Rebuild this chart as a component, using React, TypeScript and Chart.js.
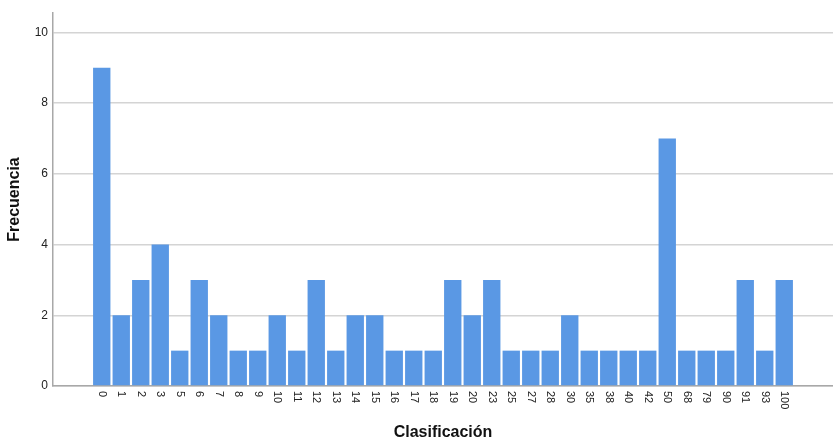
import React, { useEffect, useRef } from "react";
import { Chart, registerables } from "chart.js";

Chart.register(...registerables);

const categories: string[] = [
  "0", "1", "2", "3", "5", "6", "7", "8", "9", "10", "11", "12", "13", "14", "15", "16", "17", "18",
  "19", "20", "23", "25", "27", "28", "30", "35", "38", "40", "42", "50", "68", "79", "90", "91", "93", "100",
];
const frequencies: number[] = [
  9, 2, 3, 4, 1, 3, 2, 1, 1, 2, 1, 3, 1, 2, 2, 1, 1, 1,
  3, 2, 3, 1, 1, 1, 2, 1, 1, 1, 1, 7, 1, 1, 1, 3, 1, 3,
];
const yTicks: number[] = [0, 2, 4, 6, 8, 10];
const xTitle = "Clasificación";
const yTitle = "Frecuencia";

const FONT = "'Liberation Sans', Arial, Helvetica, sans-serif";

const rotatedLabels = {
  id: "rotatedLabels",
  afterDraw(chart: any) {
    const xs = chart.scales.x;
    const ctx = chart.ctx;
    ctx.save();
    ctx.font = `11px ${FONT}`;
    ctx.fillStyle = "#222";
    ctx.textAlign = "left";
    ctx.textBaseline = "middle";
    categories.forEach((lab, i) => {
      const px = xs.getPixelForValue(i);
      ctx.save();
      ctx.translate(px, chart.chartArea.bottom + 5);
      ctx.rotate(Math.PI / 2);
      ctx.fillText(lab, 0, 0);
      ctx.restore();
    });
    ctx.restore();
  },
};

export default function App() {
  const ref = useRef<HTMLCanvasElement | null>(null);
  useEffect(() => {
    if (!ref.current) return;
    const chart = new Chart(ref.current, {
      type: "bar",
      data: {
        datasets: [
          {
            data: frequencies.map((v, i) => ({ x: i, y: v })),
            backgroundColor: "#5a98e4",
            borderWidth: 0,
            barPercentage: 0.89,
            categoryPercentage: 1,
          },
        ],
      },
      options: {
        responsive: false,
        animation: false,
        layout: { padding: { top: 13, right: 0, left: 0, bottom: 0 } },
        plugins: { legend: { display: false }, tooltip: { enabled: false } },
        scales: {
          x: {
            type: "linear",
            offset: false,
            min: -2.5,
            max: 37.5,
            grid: { display: false },
            border: { display: true, color: "#a8a8a8", width: 1.5 },
            ticks: { display: false },
            afterFit: (s: any) => {
              s.height = 57;
            },
            title: {
              display: true,
              text: xTitle,
              font: { family: FONT, size: 16, weight: "bold" },
              color: "#111",
              padding: { top: 0, bottom: 1 },
            },
          },
          y: {
            min: 0,
            max: 10.55,
            grid: { color: "#d4d4d4", lineWidth: 1.5, drawTicks: false },
            border: { display: true, color: "#a8a8a8", width: 1.5 },
            afterBuildTicks: (s: any) => {
              s.ticks = yTicks.map((v) => ({ value: v }));
            },
            ticks: {
              font: { family: FONT, size: 12 },
              color: "#222",
              padding: 5,
            },
            afterFit: (s: any) => {
              s.width = 53;
            },
            title: {
              display: true,
              text: yTitle,
              font: { family: FONT, size: 16, weight: "bold" },
              color: "#111",
              padding: { top: 5, bottom: 0 },
            },
          },
        },
      },
      plugins: [rotatedLabels],
    });
    return () => chart.destroy();
  }, []);
  return (
    <div style={{ position: "fixed", left: 0, top: 0, width: 833, height: 443, background: "#fff" }}>
      <canvas ref={ref} width={833} height={443} style={{ display: "block" }} />
    </div>
  );
}
